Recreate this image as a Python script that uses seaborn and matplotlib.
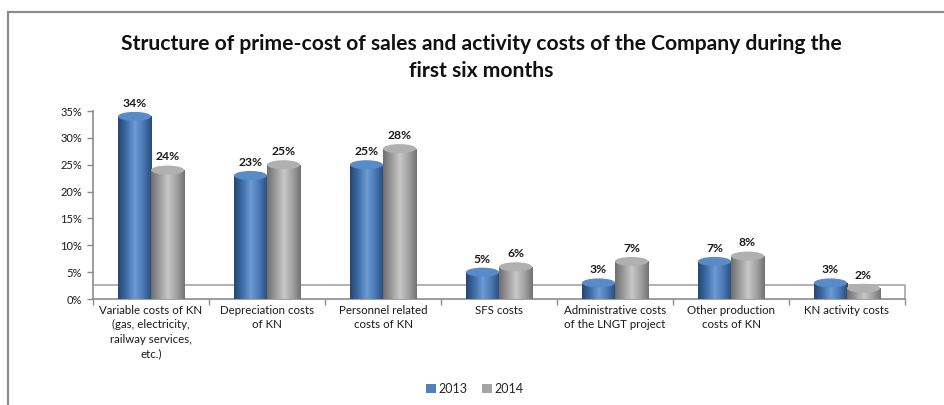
import numpy as np
import pandas as pd
import matplotlib
matplotlib.use("Agg")
import matplotlib.pyplot as plt
import seaborn as sns
from matplotlib.patches import Ellipse, Rectangle
from matplotlib.colors import LinearSegmentedColormap
from matplotlib.ticker import FuncFormatter, FixedLocator

# ---------------- data ----------------
categories = [
    "Variable costs of KN\n(gas, electricity,\nrailway services,\netc.)",
    "Depreciation costs\nof KN",
    "Personnel related\ncosts of KN",
    "SFS costs",
    "Administrative costs\nof the LNGT project",
    "Other production\ncosts of KN",
    "KN activity costs",
]
years = ["2013", "2014"]
values_2013 = [0.34, 0.23, 0.25, 0.05, 0.03, 0.07, 0.03]
values_2014 = [0.24, 0.25, 0.28, 0.06, 0.07, 0.08, 0.02]
title = "Structure of prime-cost of sales and activity costs of the Company during the\nfirst six months"

df = pd.DataFrame({
    "category": categories * 2,
    "year": [years[0]] * len(categories) + [years[1]] * len(categories),
    "value": values_2013 + values_2014,
})

# ---------------- style ----------------
sns.set_theme(style="white")
plt.rcParams["font.family"] = ["Lato", "DejaVu Sans"]

blue = "#4F81BD"
gray = "#A5A5A5"
grad = {
    blue: LinearSegmentedColormap.from_list("b", ["#254670", "#3E6DA8", "#6C9BD6", "#4A78B4", "#274A78"]),
    gray: LinearSegmentedColormap.from_list("g", ["#6E6E6E", "#9A9A9A", "#C8C8C8", "#A2A2A2", "#727272"]),
}
top_col = {blue: "#5A8BC9", gray: "#B0B0B0"}

W, H, DPI = 9.44, 4.05, 100
fig = plt.figure(figsize=(W, H), dpi=DPI)
fig.patch.set_facecolor("white")

ax_left, ax_right = 93 / 944, 905 / 944
ax_bottom, ax_top = 1 - 299 / 405, 1 - 111 / 405
ax = fig.add_axes([ax_left, ax_bottom, ax_right - ax_left, ax_top - ax_bottom])

sns.barplot(data=df, x="category", y="value", hue="year", palette=[blue, gray],
            width=0.57, gap=0.0, ax=ax, saturation=1, legend=False, zorder=3)

ymax = 0.35
ax.set_ylim(0, ymax)
ax.set_xlim(-0.5, len(categories) - 0.5)

# pixel -> data conversion for ellipse heights
ax_h_px = (ax_top - ax_bottom) * H * DPI
ell_h = 9.0 / ax_h_px * ymax

grad_img = np.linspace(0, 1, 256).reshape(1, -1)
for container, col in zip(ax.containers, [blue, gray]):
    for bar in container:
        x0, w, h = bar.get_x(), bar.get_width(), bar.get_height()
        bar.set_alpha(0)
        # body + bottom ellipse with cylindrical gradient
        body = Rectangle((x0, 0), w, h, transform=ax.transData, facecolor="none",
                         edgecolor="none", zorder=3)
        ax.add_patch(body)
        bottom = Ellipse((x0 + w / 2, 0.0), w, ell_h, facecolor="none", edgecolor="none",
                         zorder=3, clip_on=False)
        ax.add_patch(bottom)
        for clip in (body, bottom):
            im = ax.imshow(grad_img, cmap=grad[col], aspect="auto",
                           extent=(x0, x0 + w, -ell_h, h), zorder=3, interpolation="bilinear")
            im.set_clip_path(clip)
            if clip is bottom:
                im.set_clip_box(None)
                im.set_clip_on(True)
        # top cap
        cap = Ellipse((x0 + w / 2, h), w, ell_h, facecolor=top_col[col],
                      edgecolor="none", zorder=4, clip_on=False)
        ax.add_patch(cap)
        ax.annotate(f"{h:.0%}", (x0 + w / 2, h), xytext=(0, 5.5), textcoords="offset points",
                    ha="center", va="bottom", fontsize=8.7, color="#1a1a1a",
                    fontweight="bold", annotation_clip=False)

ax.set_xlim(-0.5, len(categories) - 0.5)
ax.set_ylim(0, ymax)

# floor of the 3D chart
floor_h = 14.0 / ax_h_px * ymax
ax.axhline(floor_h, color="#A6A6A6", lw=1.2, zorder=1)
ax.plot([len(categories) - 0.5] * 2, [0, floor_h], color="#A6A6A6", lw=1.2, zorder=1, clip_on=False)

# axes styling
for s in ["top", "right"]:
    ax.spines[s].set_visible(False)
for s in ["left", "bottom"]:
    ax.spines[s].set_color("#8C8C8C")
    ax.spines[s].set_linewidth(1.2)
ax.yaxis.set_major_locator(FixedLocator(np.arange(0, 0.351, 0.05)))
ax.yaxis.set_major_formatter(FuncFormatter(lambda v, p: f"{v:.0%}"))
ax.tick_params(axis="y", direction="out", length=4, width=1, color="#8C8C8C",
               labelsize=8, labelcolor="#1a1a1a", pad=4, left=True)
ax.set_xticks(range(len(categories)))
ax.set_xticks(np.arange(-0.5, len(categories), 1.0), minor=True)
ax.tick_params(axis="x", which="major", length=0, labelsize=8.3, labelcolor="#1a1a1a", pad=4)
ax.tick_params(axis="x", which="minor", length=4, width=1, color="#8C8C8C", bottom=True)
for lbl in ax.get_xticklabels():
    lbl.set_verticalalignment("top")
    lbl.set_linespacing(1.4)
ax.set_xlabel("")
ax.set_ylabel("")
ax.grid(False)

# legend
handles = [Rectangle((0, 0), 1, 1, facecolor=c, edgecolor="none") for c in [blue, gray]]
fig.legend(handles, years, loc="center", bbox_to_anchor=(0.503, 1 - 389 / 405), ncol=2,
           frameon=False, fontsize=9, handlelength=0.8, handleheight=0.8,
           handletextpad=0.2, columnspacing=1.2)

# title
fig.text(0.51, 1 - 57.5 / 405, title, ha="center", va="center", fontsize=15.2,
         fontweight="bold", color="#111111", linespacing=1.45)

# outer chart border
fig.patches.append(Rectangle((8 / 944, -0.2), 1.5, 1 - 12 / 405 + 0.2, transform=fig.transFigure,
                             fill=False, edgecolor="#8C8C8C", lw=1.6, zorder=0))

fig.savefig("out.png", dpi=DPI)
